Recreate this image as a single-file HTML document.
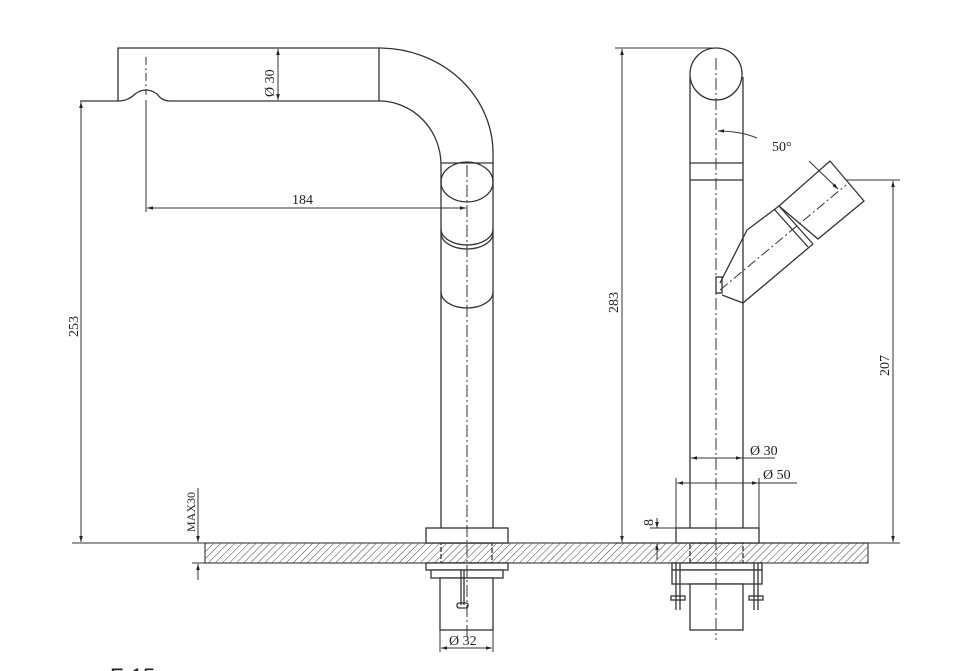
<!DOCTYPE html>
<html><head><style>body{margin:0;background:#fff}svg{display:block}text{font-family:"Liberation Serif",serif;fill:#222}</style></head>
<body>
<svg width="959" height="671" viewBox="0 0 959 671" xmlns="http://www.w3.org/2000/svg">
<defs>
<pattern id="h" width="5" height="5" patternUnits="userSpaceOnUse" patternTransform="rotate(45)"><line x1="0" y1="0" x2="0" y2="5" stroke="#444" stroke-width="1"/></pattern>
<marker id="a" viewBox="0 0 10 10" refX="10" refY="5" markerWidth="8" markerHeight="6" orient="auto-start-reverse"><path d="M0,2L10,5L0,8z" fill="#222"/></marker>
</defs>
<g fill="none" stroke="#333" stroke-width="1.3">
<rect x="205" y="543" width="663" height="20" fill="url(#h)" stroke="#555"/>
<path d="M118,101 V48 H379 A114,105 0 0 1 493,153 V528"/>
<path d="M80,101 H118 Q128,101 135,94 Q146,86 157,94 Q162,101 170,101 H379 A62,64 0 0 1 441,165 V528"/>
<line x1="379" y1="48" x2="379" y2="101"/>
<line x1="441" y1="163" x2="493" y2="163"/>
<ellipse cx="467" cy="182" rx="26" ry="20"/>
<path d="M441,229 A26,16 0 0 0 493,229"/><path d="M441,233 A26,16 0 0 0 493,233"/>
<path d="M441,292 A26,16 0 0 0 493,292"/>
<rect x="426" y="528" width="82" height="15" fill="#fff"/>
<rect x="441" y="543" width="51" height="20" stroke-dasharray="5 2"/>
<rect x="426" y="563" width="82" height="7" fill="#fff"/>
<rect x="431" y="570" width="72" height="8" fill="#fff"/>
<rect x="440" y="578" width="53" height="52" fill="#fff"/>
<line x1="461" y1="570" x2="461" y2="605"/><line x1="464" y1="570" x2="464" y2="605"/>
<rect x="457" y="603" width="11" height="5" rx="2"/>
<path d="M690,77 V528 M743,77 V528"/>
<circle cx="716" cy="74" r="26" fill="#fff"/>
<line x1="690" y1="163" x2="743" y2="163"/><line x1="690" y1="180" x2="743" y2="180"/>
<path d="M830,161 L864,201 L818,239 L779,206 Z" fill="#fff"/>
<path d="M779,206 L747,230 L720,283 M813,244 L743,303 L722,295 M779,206 L813,244 M774,209 L808,247"/>
<rect x="716" y="277" width="6" height="16"/>
<rect x="676" y="528" width="83" height="15" fill="#fff"/>
<rect x="690" y="543" width="53" height="20" stroke-dasharray="5 2"/>
<rect x="672" y="563" width="90" height="7" fill="#fff"/>
<rect x="672" y="570" width="90" height="14" fill="#fff"/>
<rect x="690" y="584" width="53" height="46" fill="#fff"/>
<line x1="676" y1="563" x2="676" y2="610"/><line x1="680" y1="563" x2="680" y2="610"/>
<line x1="754" y1="563" x2="754" y2="610"/><line x1="758" y1="563" x2="758" y2="610"/>
<rect x="671" y="596" width="14" height="4"/><rect x="749" y="596" width="14" height="4"/>
</g>
<g stroke="#333" stroke-width="1" fill="none">
<line x1="467" y1="165" x2="467" y2="640" stroke-dasharray="12 3 2 3"/>
<line x1="716" y1="58" x2="716" y2="640" stroke-dasharray="12 3 2 3"/>
<line x1="146" y1="57" x2="146" y2="95" stroke-dasharray="8 3 2 3"/>
<line x1="720" y1="290" x2="846" y2="185" stroke-dasharray="10 3 2 3"/>
<line x1="146" y1="100" x2="146" y2="212"/>
<line x1="147" y1="208" x2="466" y2="208" marker-start="url(#a)" marker-end="url(#a)"/>
<line x1="278" y1="49" x2="278" y2="100" marker-start="url(#a)" marker-end="url(#a)"/>
<line x1="81" y1="102" x2="81" y2="542" marker-start="url(#a)" marker-end="url(#a)"/>
<line x1="72" y1="543" x2="205" y2="543"/>
<line x1="198" y1="488" x2="198" y2="542" marker-end="url(#a)"/>
<line x1="198" y1="580" x2="198" y2="564" marker-end="url(#a)"/>
<line x1="192" y1="563" x2="205" y2="563"/>
<line x1="440" y1="630" x2="440" y2="652"/><line x1="493" y1="630" x2="493" y2="652"/>
<line x1="441" y1="648" x2="492" y2="648" marker-start="url(#a)" marker-end="url(#a)"/>
<line x1="615" y1="48" x2="716" y2="48"/>
<line x1="622" y1="49" x2="622" y2="542" marker-start="url(#a)" marker-end="url(#a)"/>
<line x1="615" y1="543" x2="900" y2="543"/>
<line x1="847" y1="180" x2="900" y2="180"/>
<line x1="893" y1="181" x2="893" y2="542" marker-start="url(#a)" marker-end="url(#a)"/>
<line x1="691" y1="458" x2="742" y2="458" marker-start="url(#a)" marker-end="url(#a)"/>
<line x1="742" y1="458" x2="775" y2="458"/>
<line x1="676" y1="478" x2="676" y2="528"/><line x1="759" y1="478" x2="759" y2="528"/>
<line x1="677" y1="483" x2="758" y2="483" marker-start="url(#a)" marker-end="url(#a)"/>
<line x1="758" y1="483" x2="797" y2="483"/>
<line x1="657" y1="518" x2="657" y2="528" marker-end="url(#a)"/>
<line x1="657" y1="560" x2="657" y2="544" marker-end="url(#a)"/>
<line x1="650" y1="528" x2="676" y2="528"/>
<path d="M757,138 Q740,131 718,131" marker-end="url(#a)"/>
<line x1="809" y1="161" x2="838" y2="189" marker-end="url(#a)"/>
</g>
<g font-size="14">
<text x="292" y="204">184</text>
<text transform="translate(274,97) rotate(-90)">Ø 30</text>
<text transform="translate(78,337) rotate(-90)">253</text>
<text transform="translate(195,532) rotate(-90)" font-size="12">MAX30</text>
<text x="449" y="645">Ø 32</text>
<text transform="translate(618,313) rotate(-90)">283</text>
<text transform="translate(889,376) rotate(-90)">207</text>
<text x="772" y="151">50°</text>
<text x="750" y="455">Ø 30</text>
<text x="763" y="479">Ø 50</text>
<text transform="translate(653,526) rotate(-90)">8</text>
</g>
<text x="110" y="684" font-size="22" style="font-family:'Liberation Sans',sans-serif">F-15</text>
</svg>
</body></html>
